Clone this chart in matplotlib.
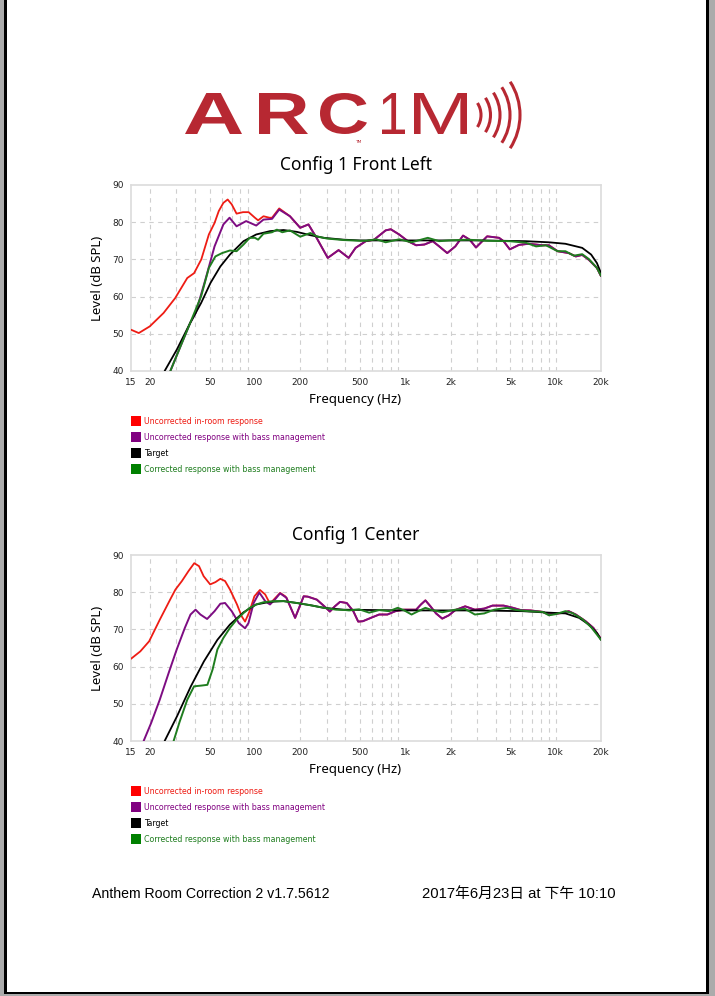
"""
ARC 1M room correction report, config 1 (front left / center)
"""

import matplotlib

matplotlib.use("Agg")
import matplotlib.pyplot as plt
import numpy as np
from matplotlib.font_manager import FontProperties
from matplotlib.patches import Arc, PathPatch, Rectangle
from matplotlib.textpath import TextPath
from matplotlib.transforms import Affine2D
from matplotlib.ticker import FixedLocator, NullFormatter

W, H = 715, 996

# ---- data: Config 1 Front Left ----
fl_red_f = [15, 16.9, 20, 24.7, 29.5, 35.5, 39.4, 44, 49.4, 53.9, 57.5, 61.7, 65.9, 70.1,
            75.5, 83.3, 90.8, 100, 105, 114, 125, 130, 145, 171]
fl_red = [51.1, 50.2, 52, 55.6, 59.6, 65, 66.3, 70, 76.7, 79.8, 83, 85.2, 86.1, 84.8,
          82.3, 82.7, 82.7, 81.2, 80.5, 81.6, 81.2, 81.2, 83.7, 81.6]

fl_pur_f = [27.4, 31.6, 37.1, 40.4, 46.8, 53.9, 61.7, 67.8, 75.5, 87.4, 102, 114, 130, 145,
            171, 200, 227, 257, 305, 360, 420, 467, 546, 620, 740, 800, 910, 1040, 1180,
            1340, 1520, 1680, 1900, 2150, 2420, 2680, 2950, 3500, 4200, 4500, 4950, 5700,
            6600, 8160, 9000, 10300, 12200, 13600, 15000, 16600, 18800, 20000]
fl_pur = [40, 46.1, 52.9, 55.6, 64.5, 73.5, 79.4, 81.2, 78.9, 80.3, 79.1, 80.7, 80.9, 83.4,
          81.6, 78.5, 79.4, 75.8, 70.4, 72.5, 70.4, 73.1, 74.9, 75.3, 77.8, 78.1, 76.7, 74.9,
          73.8, 74, 74.9, 73.5, 71.7, 73.5, 76.4, 75.3, 73.2, 76.2, 75.8, 74.9, 72.7, 73.9,
          74.2, 73.8, 73.8, 72.2, 71.7, 70.8, 71.2, 69.9, 67.7, 65.5]

fl_tgt_f = [25.1, 30.2, 37.1, 43.9, 50.7, 58.9, 68.2, 84, 102, 126, 155, 190, 234, 287, 390,
            500, 1000, 3200, 6300, 9000, 11600, 15000, 17200, 18800, 20000]
fl_tgt = [40, 45.7, 52.9, 58.3, 63.7, 68.1, 71.3, 74.9, 76.7, 77.6, 77.9, 77.4, 76.5, 75.8,
          75.3, 75.1, 75.1, 75.1, 74.9, 74.6, 74.2, 73.1, 71.3, 69, 66.3]

fl_cor_f = [27.4, 31.6, 37.1, 43.9, 49.4, 54.6, 60.5, 68.2, 75.5, 84, 92.4, 100, 105, 114,
            130, 140, 152, 171, 200, 234, 257, 302, 390, 500, 546, 640, 740, 910, 1100,
            1410, 1680, 1950, 2600, 3500, 4900, 6300, 7400, 8600, 10300, 11600, 13200,
            15000, 16600, 18800, 20000]
fl_cor = [40, 46.1, 52.9, 60.1, 67.7, 70.8, 71.7, 72.4, 72.2, 74, 75.8, 75.8, 75.3, 76.9,
          77.3, 78, 77.3, 77.8, 76.1, 77.1, 76.2, 75.6, 75.2, 75, 75, 75.4, 74.6, 75.4, 74.6,
          75.8, 74.9, 75.1, 75.3, 75.0, 74.9, 74.5, 73.5, 73.8, 72.2, 72.2, 71, 71.4, 70.1,
          67.7, 65.6]

# ---- data: Config 1 Center ----
c_red_f = [15, 17.3, 19.8, 23.3, 27.3, 29.6, 32.7, 36.2, 39.5, 42.5, 45.6, 50.4, 54.6, 58.9,
           63.3, 68.3, 76, 81.7, 86, 92.2, 99.2, 108, 117, 126, 137, 147, 159]
c_red = [62.1, 64.1, 66.8, 72.6, 78, 80.7, 83, 85.7, 87.8, 87, 84.3, 82.1, 82.7, 83.6, 83,
         80.7, 76.7, 73.5, 72.1, 74.9, 78.9, 80.6, 79.4, 76.9, 78.5, 79.8, 78.9]

c_pur_f = [18.2, 20.4, 23.3, 26.7, 30.2, 34.2, 37.3, 40.3, 43.4, 48.1, 53.9, 58.9, 63.3, 70.1,
           78.2, 86, 90.6, 98.1, 107, 117, 126, 137, 147, 162, 185, 211, 225, 258, 286, 315,
           340, 368, 408, 451, 486, 522, 590, 670, 760, 860, 975, 1070, 1180, 1270, 1360,
           1470, 1600, 1760, 1950, 2150, 2500, 2900, 3350, 3800, 4500, 5200, 5850, 6800,
           8200, 9000, 10000, 11000, 12200, 13600, 15800, 17800, 20000]
c_pur = [40, 44.8, 51.1, 58.3, 64.6, 70.4, 74, 75.3, 74, 72.8, 74.9, 76.9, 77.1, 74.9, 71.7,
         70.3, 71.7, 77.1, 79.9, 77.6, 76.7, 78.2, 79.7, 78.5, 73.1, 78.9, 78.8, 78, 76.4,
         74.8, 76.2, 77.4, 77.1, 74.9, 72.1, 72.2, 73.1, 74, 74, 74.9, 75.3, 75.3, 75.3,
         76.7, 77.8, 76.2, 74.3, 72.9, 73.8, 75.2, 76.2, 75.3, 75.6, 76.4, 76.4, 75.8, 75.2,
         75.1, 74.7, 74, 74.2, 74.4, 74.9, 74, 72.2, 70.4, 67.4]

c_tgt_f = [25.1, 30.3, 37.5, 45.8, 56.3, 68.2, 84, 102, 126, 155, 190, 234, 287, 390, 1000,
           3000, 6000, 9000, 11600, 14300, 16600, 18800, 20000]
c_tgt = [40, 46.6, 54.7, 61.4, 67.2, 71.3, 74.6, 76.7, 77.4, 77.6, 77.1, 76.5, 75.8, 75.3,
         75.1, 75.1, 74.9, 74.5, 74.3, 73.1, 71.3, 69, 67.2]

c_cor_f = [28.8, 31.6, 35.5, 39.4, 44.1, 48.3, 52.3, 56.3, 61.7, 68.2, 75.5, 84, 92.4, 102,
           114, 134, 155, 190, 234, 287, 347, 400, 423, 493, 575, 670, 780, 890, 975, 1100,
           1220, 1360, 1500, 1760, 2150, 2500, 2900, 3350, 3900, 4750, 5500, 6600, 8200,
           9000, 10000, 11600, 12900, 15000, 17200, 20000]
c_cor = [40, 45.2, 51.1, 54.7, 54.9, 55.1, 59.2, 64.6, 67.7, 70.4, 72.6, 74.4, 75.8, 76.7,
         77.3, 77.6, 77.6, 77.1, 76.5, 75.8, 75.3, 75.2, 75.1, 75.4, 74.5, 75.2, 74.9, 75.8,
         75.2, 74, 74.9, 75.8, 75.2, 74.6, 75.3, 75.5, 74, 74.3, 75.3, 75.8, 75.2, 74.9,
         74.7, 73.8, 74.1, 74.9, 74.4, 72.8, 70.6, 67.2]

x_ticks = [15, 20, 50, 100, 200, 500, 1000, 2000, 5000, 10000, 20000]
x_tick_labels = ["15", "20", "50", "100", "200", "500", "1k", "2k", "5k", "10k", "20k"]
y_ticks = [40, 50, 60, 70, 80, 90]

series_labels = ["Uncorrected in-room response", "Uncorrected response with bass management",
                 "Target", "Corrected response with bass management"]
series_colors = ["#ee1c14", "#7d0c82", "#000000", "#1f7d1f"]
legend_colors = ["#ff0000", "#800080", "#000000", "#008000"]
legend_text_colors = ["#ee1c14", "#800080", "#000000", "#1f7d1f"]


def px(x, y):
    """Pixel position (from top-left) to figure fraction."""
    return x / W, 1 - y / H


def draw_chart(fig, top_px, title, red, pur, tgt, cor):
    left, right = 131, 601
    ax = fig.add_axes([left / W, 1 - (top_px + 186) / H, (right - left) / W, 186 / H])
    ax.set_xscale("log")
    ax.set_xlim(15, 20000)
    ax.set_ylim(40, 90)

    # red sits under purple above the crossover, so reuse purple's readings there
    pf, pv = np.array(pur[0]), np.array(pur[1])
    rf = np.concatenate([red[0], pf[pf > red[0][-1]]])
    rv = np.concatenate([red[1], pv[pf > red[0][-1]]])

    kw = dict(solid_joinstyle="round", solid_capstyle="round")
    ax.plot(rf, rv, color=series_colors[0], lw=1.3, zorder=3, **kw)
    ax.plot(pf, pv, color=series_colors[1], lw=1.4, zorder=4, **kw)
    ax.plot(tgt[0], tgt[1], color=series_colors[2], lw=1.3, zorder=5, **kw)
    ax.plot(cor[0], cor[1], color=series_colors[3], lw=1.4, zorder=6, **kw)

    minor = [m * d for d in (10, 100, 1000) for m in range(2, 10)] + [10000, 20000]
    ax.xaxis.set_major_locator(FixedLocator(x_ticks))
    ax.set_xticklabels(x_tick_labels)
    ax.xaxis.set_minor_locator(FixedLocator(minor))
    ax.xaxis.set_minor_formatter(NullFormatter())
    ax.set_yticks(y_ticks)
    ax.tick_params(which="both", length=0, labelsize=6.5, colors="#222222", pad=5)
    ax.grid(False)
    for v in minor:
        ax.axvline(v, color="#cfcfcf", lw=0.8, ls=(0, (4, 4)), zorder=1)
    for v in y_ticks[1:-1]:
        ax.axhline(v, color="#cfcfcf", lw=0.8, ls=(0, (4, 4)), zorder=1)
    for s in ax.spines.values():
        s.set_color("#dcdcdc")
        s.set_linewidth(1.2)

    # title and x label are centred a little left of the plot area
    tx, ty = px(355.5, top_px - 20)
    fig.text(tx, ty, title, fontsize=12.5, family="Noto Sans", ha="center", va="center")
    tx, ty = px(355.5, top_px + 214)
    fig.text(tx, ty, "Frequency (Hz)", fontsize=9.5, family="Noto Sans", ha="center",
             va="center")
    ax.set_ylabel("Level (dB SPL)", fontsize=9.5, family="Noto Sans", labelpad=6)

    # legend block below the chart
    for i, (lab, col) in enumerate(zip(series_labels, legend_colors)):
        cy = top_px + 236 + 16 * i
        x0, y0 = px(131, cy + 5)
        fig.add_artist(Rectangle((x0, y0), 10 / W, 10 / H, transform=fig.transFigure,
                                 facecolor=col, edgecolor="none"))
        tx, ty = px(144.5, cy)
        fig.text(tx, ty, lab, color=legend_text_colors[i], fontsize=5.7, va="center",
                 ha="left", family="DejaVu Sans")
    return ax


def draw_logo(fig):
    red = "#b72832"
    lax = fig.add_axes([0, 0, 1, 1], zorder=-1)
    lax.set_xlim(0, W)
    lax.set_ylim(H, 0)
    lax.axis("off")

    bold = FontProperties(family="Liberation Sans", weight="bold")
    plain = FontProperties(family="Liberation Sans")
    # each glyph is fitted into its box (x0, x1, top, bottom) in pixels
    glyphs = [("A", bold, 185, 242, 93, 134), ("R", bold, 259, 308, 93, 134),
              ("C", bold, 320, 367, 93, 134), ("1", plain, 382, 405, 93, 134),
              ("M", plain, 414, 467, 93, 134)]
    for ch, fp, x0, x1, y0, y1 in glyphs:
        path = TextPath((0, 0), ch, size=100, prop=fp)
        ext = path.get_extents()
        sx = (x1 - x0) / ext.width
        sy = (y1 - y0) / ext.height
        tr = Affine2D().translate(-ext.x0, -ext.y1).scale(sx, -sy).translate(x0, y0)
        lax.add_patch(PathPatch(tr.transform_path(path), facecolor=red, edgecolor="none"))
    lax.text(358, 142, "TM", color=red, fontsize=3.2, ha="center", va="center")

    # sound-wave arcs
    for r in [22, 31.5, 41, 51, 61]:
        lax.add_patch(Arc((459, 115), 2 * r, 2 * r, theta1=-33, theta2=33,
                          color=red, lw=2.2))
    return lax


fig = plt.figure(figsize=(W / 100, H / 100), dpi=100)
fig.patch.set_facecolor("#ababab")
fig.add_artist(Rectangle(px(4, 994), 705 / W, 1004 / H, transform=fig.transFigure,
                         facecolor="black", edgecolor="none", zorder=-5))
fig.add_artist(Rectangle(px(6.5, 991.5), 699.5 / W, 1004 / H, transform=fig.transFigure,
                         facecolor="white", edgecolor="none", zorder=-4))

draw_logo(fig)
draw_chart(fig, 185, "Config 1 Front Left", (fl_red_f, fl_red), (fl_pur_f, fl_pur),
           (fl_tgt_f, fl_tgt), (fl_cor_f, fl_cor))
draw_chart(fig, 555, "Config 1 Center", (c_red_f, c_red), (c_pur_f, c_pur),
           (c_tgt_f, c_tgt), (c_cor_f, c_cor))

foot = ["Liberation Sans", "Noto Sans CJK SC"]
fig.text(*px(92, 894), "Anthem Room Correction 2 v1.7.5612", fontsize=10.2, family=foot,
         va="center", ha="left")
fig.text(*px(422, 894), "2017年6月23日 at 下午 10:10", fontsize=10.6, family=foot,
         va="center", ha="left")

fig.savefig("out.png", dpi=100, facecolor=fig.get_facecolor())
